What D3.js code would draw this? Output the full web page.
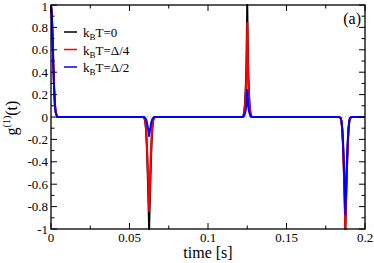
<!DOCTYPE html>
<html>
<head>
<meta charset="utf-8">
<script src="https://cdn.jsdelivr.net/npm/d3@7"></script>
</head>
<body style="margin:0;background:#fff">
<svg id="chart" width="374" height="263" font-family="Liberation Serif"></svg>
<script>
// time points (s)
const times = [
  0, 0.0005, 0.001, 0.0015, 0.002, 0.0025, 0.003, 0.004, 0.006,
  0.0585, 0.0595, 0.060, 0.0605, 0.061, 0.0615, 0.062, 0.0625, 0.063, 0.0635, 0.064, 0.0645, 0.065, 0.0655, 0.0665,
  0.121, 0.122, 0.1225, 0.123, 0.1235, 0.124, 0.1245, 0.125, 0.1255, 0.126, 0.1265, 0.127, 0.1275, 0.128, 0.129,
  0.1835, 0.1845, 0.185, 0.1855, 0.186, 0.1865, 0.187, 0.1875, 0.188, 0.1885, 0.189, 0.1895, 0.190, 0.1905, 0.1915,
  0.2
];
const g0 = [
  1, 0.92, 0.71, 0.46, 0.25, 0.11, 0.04, 0, 0,
  0, -0.01, -0.04, -0.11, -0.25, -0.46, -0.71, -1, -0.71, -0.46, -0.25, -0.11, -0.04, -0.01, 0,
  0, 0, 0.01, 0.04, 0.11, 0.25, 0.46, 1, 0.46, 0.25, 0.11, 0.04, 0.01, 0, 0,
  0, -0.01, -0.04, -0.11, -0.25, -0.46, -0.71, -1, -0.71, -0.46, -0.25, -0.11, -0.04, -0.01, 0,
  0
];
const gQuarter = [
  1, 0.92, 0.71, 0.46, 0.25, 0.11, 0.04, 0, 0,
  0, -0.01, -0.03, -0.09, -0.21, -0.39, -0.6, -0.84, -0.6, -0.39, -0.21, -0.09, -0.03, -0.01, 0,
  0, 0, 0.01, 0.03, 0.09, 0.21, 0.39, 0.84, 0.39, 0.21, 0.09, 0.03, 0.01, 0, 0,
  0, -0.01, -0.04, -0.11, -0.25, -0.46, -0.71, -1, -0.71, -0.46, -0.25, -0.11, -0.04, -0.01, 0,
  0
];
const gHalf = [
  1, 0.92, 0.71, 0.46, 0.25, 0.11, 0.04, 0, 0,
  0, 0, -0.01, -0.02, -0.04, -0.08, -0.12, -0.17, -0.12, -0.08, -0.04, -0.02, -0.01, 0, 0,
  0, 0, 0, 0.01, 0.03, 0.06, 0.11, 0.24, 0.11, 0.06, 0.03, 0.01, 0, 0, 0,
  0, -0.01, -0.03, -0.1, -0.22, -0.4, -0.62, -0.87, -0.62, -0.4, -0.22, -0.1, -0.03, -0.01, 0,
  0
];
const seriesNames = ["k_BT=0", "k_BT=Δ/4", "k_BT=Δ/2"];
const seriesColors = ["#000000", "#ff0000", "#0000ff"];
const xTicks = [0, 0.05, 0.1, 0.15, 0.2];
const yTicks = [-1, -0.8, -0.6, -0.4, -0.2, 0, 0.2, 0.4, 0.6, 0.8, 1];

const pLeft = 51, pRight = 365, pTop = 5, pBottom = 229;
const fam = "Liberation Serif";

const svg = d3.select("#chart");

const x = d3.scaleLinear().domain([0, 0.2]).range([pLeft, pRight]);
const y = d3.scaleLinear().domain([-1, 1]).range([pBottom, pTop]);

// dotted zero line
svg.append("line")
  .attr("x1", x(0)).attr("x2", x(0.2))
  .attr("y1", y(0)).attr("y2", y(0))
  .attr("stroke", "#999").attr("stroke-width", 1)
  .attr("stroke-dasharray", "1,2");

const line = d3.line().x((d) => x(d[0])).y((d) => y(d[1]));
[g0, gQuarter, gHalf].forEach((vals, i) => {
  svg.append("path")
    .datum(times.map((t, j) => [t, vals[j]]))
    .attr("fill", "none")
    .attr("stroke", seriesColors[i])
    .attr("stroke-width", 2)
    .attr("stroke-linejoin", "round")
    .attr("d", line);
});

// frame
svg.append("rect")
  .attr("x", pLeft).attr("y", pTop)
  .attr("width", pRight - pLeft).attr("height", pBottom - pTop)
  .attr("fill", "none").attr("stroke", "#000").attr("stroke-width", 1.3);

// ticks (inward, all sides)
const xMinor = d3.range(0, 0.2001, 0.025);
const yMinor = d3.range(-1, 1.0001, 0.1);
xMinor.forEach((t, i) => {
  const len = i % 2 === 0 ? 6 : 3.5;
  svg.append("line").attr("x1", x(t)).attr("x2", x(t)).attr("y1", pBottom).attr("y2", pBottom - len).attr("stroke", "#000");
  svg.append("line").attr("x1", x(t)).attr("x2", x(t)).attr("y1", pTop).attr("y2", pTop + len).attr("stroke", "#000");
});
yMinor.forEach((v, i) => {
  const len = i % 2 === 0 ? 6 : 3.5;
  svg.append("line").attr("x1", pLeft).attr("x2", pLeft + len).attr("y1", y(v)).attr("y2", y(v)).attr("stroke", "#000");
  svg.append("line").attr("x1", pRight).attr("x2", pRight - len).attr("y1", y(v)).attr("y2", y(v)).attr("stroke", "#000");
});

// tick labels
svg.selectAll(".xl").data(xTicks).join("text")
  .attr("x", (d) => x(d)).attr("y", 242)
  .attr("font-family", fam)
  .attr("text-anchor", "middle").attr("font-size", 13)
  .text((d) => d);
svg.selectAll(".yl").data(yTicks).join("text")
  .attr("x", 48).attr("y", (d) => y(d) + 4.5 + (d === 1 ? 1 : 0))
  .attr("font-family", fam)
  .attr("text-anchor", "end").attr("font-size", 13)
  .text((d) => d);

// axis titles
svg.append("text")
  .attr("x", 208).attr("y", 258)
  .attr("font-family", fam)
  .attr("text-anchor", "middle").attr("font-size", 16)
  .text("time [s]");

const yl = svg.append("text")
  .attr("transform", "translate(17,118) rotate(-90)")
  .attr("font-family", fam)
  .attr("text-anchor", "middle").attr("font-size", 16);
yl.append("tspan").text("g");
yl.append("tspan").attr("dy", -7).attr("font-size", 10).text("(1)");
yl.append("tspan").attr("dy", 7).text("(t)");

// panel label
svg.append("text")
  .attr("x", 361).attr("y", 24)
  .attr("font-family", fam)
  .attr("text-anchor", "end").attr("font-size", 16)
  .text("(a)");

// legend
seriesNames.forEach((name, i) => {
  const ly = 32 + i * 17.5;
  svg.append("line")
    .attr("x1", 64).attr("x2", 77).attr("y1", ly).attr("y2", ly)
    .attr("stroke", seriesColors[i]).attr("stroke-width", 1.5);
  const parts = name.split("_");
  const t = svg.append("text").attr("x", 83).attr("y", ly + 5)
    .attr("font-family", fam).attr("font-size", 13);
  t.append("tspan").text(parts[0]);
  t.append("tspan").attr("dy", 3).attr("font-size", 9).text(parts[1][0]);
  t.append("tspan").attr("dy", -3).text(parts[1].slice(1));
});
</script>
</body>
</html>
